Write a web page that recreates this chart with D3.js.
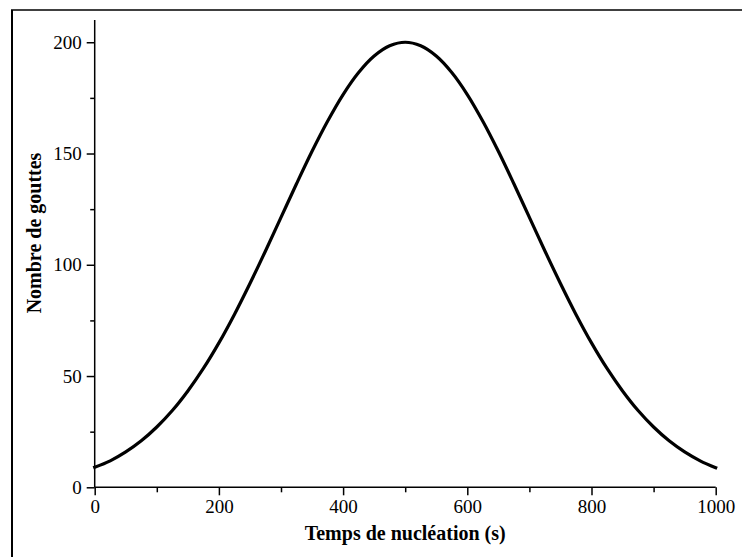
<!DOCTYPE html>
<html>
<head>
<meta charset="utf-8">
<script src="https://cdn.jsdelivr.net/npm/d3@7"></script>
<style>
  html, body { margin: 0; padding: 0; background: #fff; }
  svg { display: block; }
  svg text { font-family: "Liberation Serif", "Times New Roman", serif; }
</style>
</head>
<body>
<svg id="chart" width="742" height="557"></svg>
<script>
// Data
const times = [0, 25, 50, 75, 100, 125, 150, 175, 200, 225, 250, 275, 300, 325, 350, 375, 400, 425, 450, 475,
               500, 525, 550, 575, 600, 625, 650, 675, 700, 725, 750, 775, 800, 825, 850, 875, 900, 925, 950, 975, 1000];
const drops = [9.0, 11.9, 15.9, 20.9, 27.1, 34.5, 43.3, 53.4, 64.9, 77.7, 91.6, 106.2, 121.3, 136.4, 151.0, 164.5, 176.5, 186.4, 193.8, 198.4,
               200.0, 198.4, 193.8, 186.4, 176.5, 164.5, 151.0, 136.4, 121.3, 106.2, 91.6, 77.7, 64.9, 53.4, 43.3, 34.5, 27.1, 20.9, 15.9, 11.9, 8.8];
const xTicks = [0, 200, 400, 600, 800, 1000];
const xMinorTicks = [100, 300, 500, 700, 900];
const yTicks = [0, 50, 100, 150, 200];
const yMinorTicks = [25, 75, 125, 175];
const xTitle = "Temps de nucléation (s)";
const yTitle = "Nombre de gouttes";

const svg = d3.select("#chart");
const font = "'Liberation Serif', 'Times New Roman', serif";

// Outer frame (only left and top edges visible in the reference)
svg.append("line").attr("x1", 12).attr("x2", 12).attr("y1", 10).attr("y2", 557)
  .attr("stroke", "#000").attr("stroke-width", 2);
svg.append("line").attr("x1", 11).attr("x2", 742).attr("y1", 10).attr("y2", 10)
  .attr("stroke", "#000").attr("stroke-width", 1.5);

const x = d3.scaleLinear().domain([0, 1000]).range([94.7, 715.7]);
const y = d3.scaleLinear().domain([0, 210]).range([487.3, 20]);

// X axis
const gx = svg.append("g").attr("transform", `translate(0,${y(0)})`);
gx.call(d3.axisBottom(x).tickValues(xTicks).tickSize(8).tickPadding(4).tickFormat(d3.format("d")));
const gxm = svg.append("g").attr("transform", `translate(0,${y(0)})`);
gxm.call(d3.axisBottom(x).tickValues(xMinorTicks).tickSize(5).tickFormat(""));

// Y axis
const gy = svg.append("g").attr("transform", `translate(${x(0)},0)`);
gy.call(d3.axisLeft(y).tickValues(yTicks).tickSize(8).tickPadding(5).tickFormat(d3.format("d")));
const gym = svg.append("g").attr("transform", `translate(${x(0)},0)`);
gym.call(d3.axisLeft(y).tickValues(yMinorTicks).tickSize(4.5).tickFormat(""));

[gx, gxm, gy, gym].forEach(g => {
  g.select(".domain").remove();
  g.attr("font-family", font).attr("font-size", 19);
});

// Axis lines
svg.append("line").attr("x1", x(0)).attr("x2", x(1000)).attr("y1", y(0)).attr("y2", y(0))
  .attr("stroke", "#000").attr("stroke-width", 1.5);
svg.append("line").attr("x1", x(0)).attr("x2", x(0)).attr("y1", y(0)).attr("y2", y(210))
  .attr("stroke", "#000").attr("stroke-width", 1.5);

svg.selectAll(".tick line").attr("stroke", "#000").attr("stroke-width", 1.5);
svg.selectAll(".tick text").style("font-family", font).style("font-size", "19px").attr("fill", "#000");

// Axis titles
svg.append("text").attr("x", (x(0) + x(1000)) / 2).attr("y", 540)
  .attr("text-anchor", "middle").style("font-family", font).attr("font-weight", "bold")
  .style("font-size", "20px").attr("fill", "#000").text(xTitle);
svg.append("text").attr("transform", `translate(41,233) rotate(-90)`)
  .attr("text-anchor", "middle").style("font-family", font).attr("font-weight", "bold")
  .style("font-size", "20px").attr("fill", "#000").text(yTitle);

// Curve
const pts = times.map((t, i) => [t, drops[i]]);
const line = d3.line().x(d => x(d[0])).y(d => y(d[1])).curve(d3.curveCatmullRom);
svg.append("path").datum(pts).attr("d", line)
  .attr("fill", "none").attr("stroke", "#000").attr("stroke-width", 3.2)
  .attr("stroke-linejoin", "round").attr("stroke-linecap", "square");
</script>
</body>
</html>
